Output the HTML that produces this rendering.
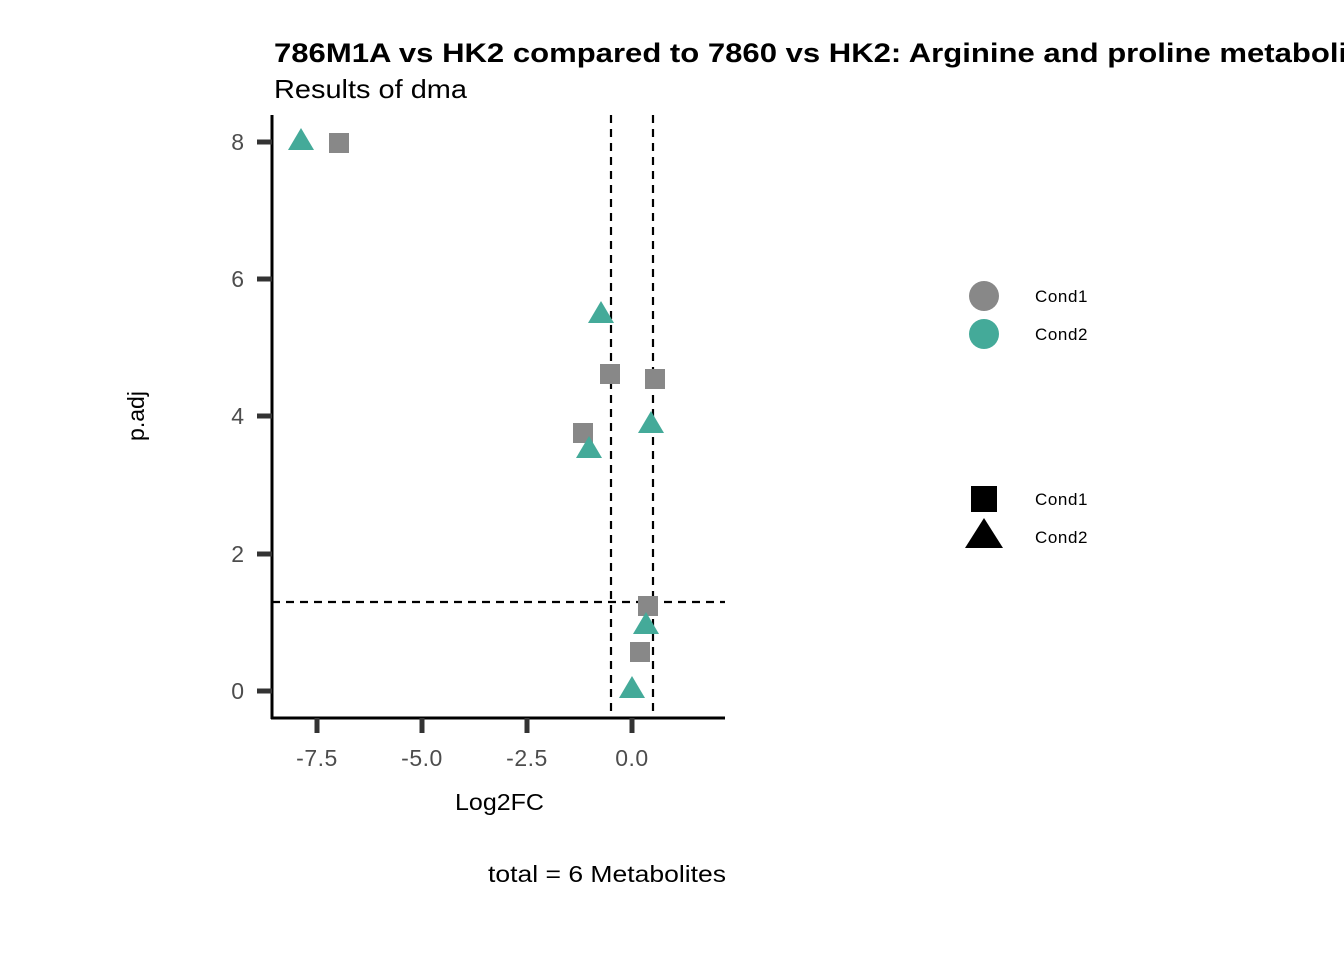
<!DOCTYPE html>
<html><head><style>
html,body{margin:0;padding:0;background:#fff;}
svg{display:block;font-family:"Liberation Sans",Arial,sans-serif;}
</style></head><body>
<svg width="1344" height="960" xmlns="http://www.w3.org/2000/svg">
<rect width="1344" height="960" fill="#fff"/>
<text x="274" y="62" font-size="27" font-weight="bold" fill="#000" textLength="1118" lengthAdjust="spacingAndGlyphs">786M1A vs HK2 compared to 7860 vs HK2: Arginine and proline metabolism</text>
<text x="274" y="98" font-size="26" fill="#000" textLength="193" lengthAdjust="spacingAndGlyphs">Results of dma</text>
<g stroke="#000" stroke-width="2.2" stroke-dasharray="8,6" fill="none">
<line x1="611" y1="115" x2="611" y2="718"/>
<line x1="653" y1="115" x2="653" y2="718"/>
<line x1="272" y1="602" x2="725" y2="602"/>
</g>
<line x1="272" y1="115" x2="272" y2="719" stroke="#000" stroke-width="3"/>
<line x1="271" y1="718" x2="725" y2="718" stroke="#000" stroke-width="3"/>
<g stroke="#333" stroke-width="5">
<line x1="257" y1="142" x2="272" y2="142"/>
<line x1="257" y1="279" x2="272" y2="279"/>
<line x1="257" y1="416" x2="272" y2="416"/>
<line x1="257" y1="554" x2="272" y2="554"/>
<line x1="257" y1="691" x2="272" y2="691"/>
<line x1="317" y1="718" x2="317" y2="733"/>
<line x1="422" y1="718" x2="422" y2="733"/>
<line x1="527" y1="718" x2="527" y2="733"/>
<line x1="632" y1="718" x2="632" y2="733"/>
</g>
<g font-size="23" fill="#4d4d4d" text-anchor="end">
<text x="244" y="150">8</text><text x="244" y="287">6</text><text x="244" y="424">4</text><text x="244" y="562">2</text><text x="244" y="699">0</text>
</g>
<g font-size="23" fill="#4d4d4d" text-anchor="middle" letter-spacing="0.5">
<text x="317" y="766">-7.5</text><text x="422" y="766">-5.0</text><text x="527" y="766">-2.5</text><text x="632" y="766">0.0</text>
</g>
<text x="455" y="810" font-size="23" textLength="89" lengthAdjust="spacingAndGlyphs">Log2FC</text>
<text x="144" y="416" font-size="23" text-anchor="middle" transform="rotate(-90 144 416)">p.adj</text>
<text x="488" y="882" font-size="23" textLength="238" lengthAdjust="spacingAndGlyphs">total = 6 Metabolites</text>
<g fill="#888888">
<rect x="329" y="133" width="20" height="20"/>
<rect x="600" y="364" width="20" height="20"/>
<rect x="645" y="369" width="20" height="20"/>
<rect x="573" y="423" width="20" height="20"/>
<rect x="638" y="596" width="20" height="20"/>
<rect x="630" y="642" width="20" height="20"/>
</g>
<g fill="#44aa99">
<polygon points="301,128 314,150 288,150"/>
<polygon points="601,301 614,323 588,323"/>
<polygon points="651,411 664,433 638,433"/>
<polygon points="589,436 602,458 576,458"/>
<polygon points="646,612 659,634 633,634"/>
<polygon points="632,676 645,698 619,698"/>
</g>
<circle cx="984" cy="296" r="15" fill="#888888"/>
<circle cx="984" cy="334" r="15" fill="#44aa99"/>
<g font-size="17" letter-spacing="0.6">
<text x="1035" y="302">Cond1</text>
<text x="1035" y="340">Cond2</text>
<text x="1035" y="505">Cond1</text>
<text x="1035" y="543">Cond2</text>
</g>
<rect x="971" y="486" width="26" height="26" fill="#000"/>
<polygon points="984,518 1003,548 965,548" fill="#000"/>
</svg>
</body></html>
